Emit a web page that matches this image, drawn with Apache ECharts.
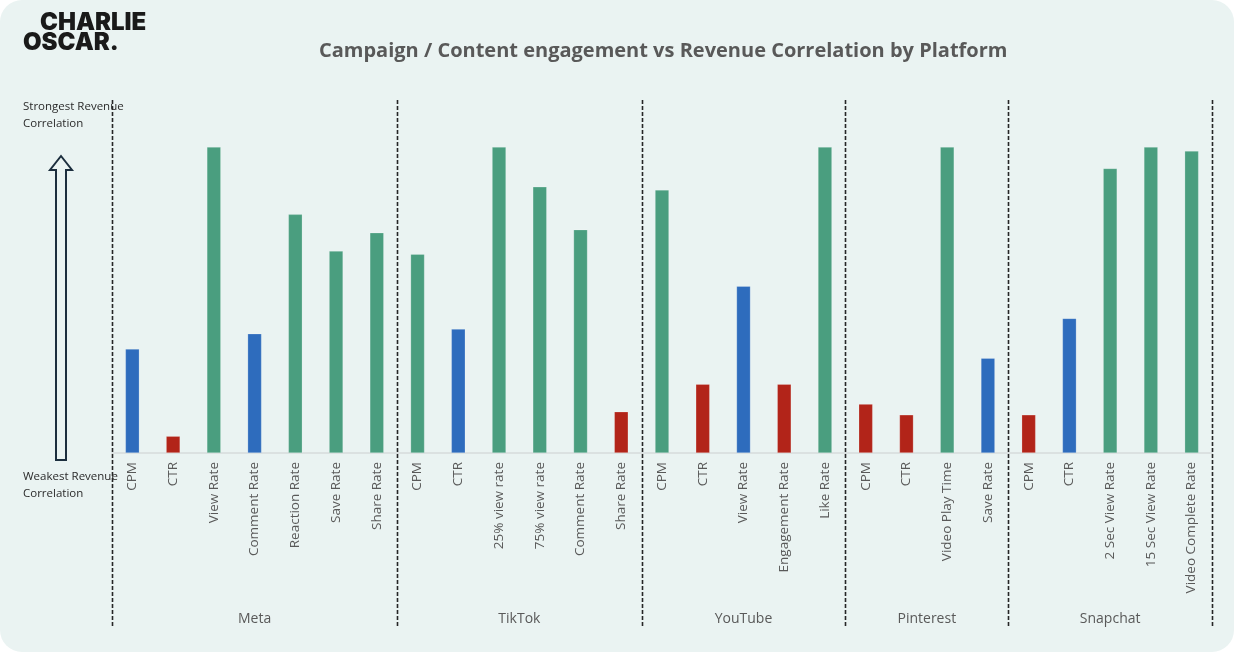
<!DOCTYPE html>
<html>
<head>
<meta charset="utf-8">
<script src="https://cdn.jsdelivr.net/npm/echarts@6/dist/echarts.min.js"></script>
<style>
html,body{margin:0;padding:0;background:#ffffff;}
#frame{position:absolute;left:0;top:0;width:1234px;height:652px;background:#eaf3f2;border-radius:22px;overflow:hidden;}
#chart{width:1234px;height:652px;}
</style>
</head>
<body>
<div id="frame"><div id="chart"></div></div>
<script>
// ---- data ----
const platforms = ['Meta', 'TikTok', 'YouTube', 'Pinterest', 'Snapchat'];
const metaMetrics = ['CPM', 'CTR', 'View Rate', 'Comment Rate', 'Reaction Rate', 'Save Rate', 'Share Rate'];
const metaValues = [34, 5.5, 100, 39, 78, 66, 72];
const metaStrength = ['mid', 'weak', 'strong', 'mid', 'strong', 'strong', 'strong'];
const tiktokMetrics = ['CPM', 'CTR', '25% view rate', '75% view rate', 'Comment Rate', 'Share Rate'];
const tiktokValues = [65, 40.5, 100, 87, 73, 13.5];
const tiktokStrength = ['strong', 'mid', 'strong', 'strong', 'strong', 'weak'];
const youtubeMetrics = ['CPM', 'CTR', 'View Rate', 'Engagement Rate', 'Like Rate'];
const youtubeValues = [86, 22.5, 54.5, 22.5, 100];
const youtubeStrength = ['strong', 'weak', 'mid', 'weak', 'strong'];
const pinterestMetrics = ['CPM', 'CTR', 'Video Play Time', 'Save Rate'];
const pinterestValues = [16, 12.5, 100, 31];
const pinterestStrength = ['weak', 'weak', 'strong', 'mid'];
const snapchatMetrics = ['CPM', 'CTR', '2 Sec View Rate', '15 Sec View Rate', 'Video Complete Rate'];
const snapchatValues = [12.5, 44, 93, 100, 98.7];
const snapchatStrength = ['weak', 'mid', 'strong', 'strong', 'strong'];

const groups = [
  [metaMetrics, metaValues, metaStrength],
  [tiktokMetrics, tiktokValues, tiktokStrength],
  [youtubeMetrics, youtubeValues, youtubeStrength],
  [pinterestMetrics, pinterestValues, pinterestStrength],
  [snapchatMetrics, snapchatValues, snapchatStrength]
];
const strengthColor = { strong: '#4a9e7f', mid: '#2e6cbd', weak: '#b22419' };

const categories = [];
const barData = [];
const groupStart = [];
groups.forEach(function (g) {
  groupStart.push(categories.length);
  g[0].forEach(function (m, i) {
    categories.push(categories.length + '|' + m);
    barData.push({ value: g[1][i], itemStyle: { color: strengthColor[g[2][i]] } });
  });
});
groupStart.push(categories.length);

const chart = echarts.init(document.getElementById('chart'));
const font = '"Open Sans", "Noto Sans", sans-serif';
const option = {
  animation: false,
  title: {
    text: 'Campaign / Content engagement vs Revenue Correlation by Platform',
    left: 314, top: 36,
    textStyle: { fontFamily: font, fontSize: 20, fontWeight: 'bold', color: '#595959' }
  },
  grid: { left: 112, right: 22, top: 147, bottom: 199, containLabel: false },
  xAxis: {
    type: 'category',
    data: categories,
    axisLine: { lineStyle: { color: '#d6dcdb', width: 1.5 } },
    axisTick: { show: false },
    axisLabel: {
      interval: 0, rotate: 90, margin: 9,
      fontFamily: font, fontSize: 13.5, color: '#595959',
      formatter: function (v) { return v.split('|')[1]; }
    }
  },
  yAxis: { type: 'value', min: 0, max: 100, show: false, splitLine: { show: false } },
  series: [{
    type: 'bar', data: barData, barWidth: 14,
    itemStyle: { borderColor: 'rgba(255,255,255,0.35)', borderWidth: 0.6 }
  }]
};
chart.setOption(option);

// separators and platform labels positioned with the category scale
const c0 = chart.convertToPixel({ xAxisIndex: 0 }, categories[0]);
const c1 = chart.convertToPixel({ xAxisIndex: 0 }, categories[1]);
const band = c1 - c0;
function boundary(idx) { return c0 - band / 2 + idx * band; }
const graphics = [];
groupStart.forEach(function (s) {
  const x = Math.round(boundary(s)) + 0.5;
  graphics.push({
    type: 'line', silent: true,
    shape: { x1: x, y1: 100, x2: x, y2: 628 },
    style: { stroke: '#262626', lineWidth: 1.6, lineDash: [4, 2] }
  });
});
platforms.forEach(function (p, i) {
  const cx = (boundary(groupStart[i]) + boundary(groupStart[i + 1])) / 2;
  graphics.push({
    type: 'text', silent: true, x: cx, y: 619,
    style: { text: p, fontFamily: font, fontSize: 14, fill: '#595959', align: 'center', verticalAlign: 'middle' }
  });
});
// side annotations
graphics.push({
  type: 'text', x: 23, y: 98,
  style: { text: 'Strongest Revenue\nCorrelation', fontFamily: font, fontSize: 11.5, lineHeight: 17, fill: '#2a2a2a' }
});
graphics.push({
  type: 'text', x: 23, y: 468,
  style: { text: 'Weakest Revenue\nCorrelation', fontFamily: font, fontSize: 11.5, lineHeight: 17, fill: '#2a2a2a' }
});
graphics.push({
  type: 'polygon',
  shape: { points: [[61, 156], [72, 170], [66, 170], [66, 460], [56, 460], [56, 170], [50, 170]] },
  style: { fill: 'none', stroke: '#1c2e3e', lineWidth: 2 }
});
// logo
graphics.push({
  type: 'text', x: 40, y: 11,
  style: { text: 'CHARLIE', fontFamily: 'Inter, "DejaVu Sans", sans-serif', fontWeight: 900, fontSize: 24, fill: '#1a1a1a' }
});
graphics.push({
  type: 'text', x: 23, y: 31,
  style: { text: 'OSCAR.', fontFamily: 'Inter, "DejaVu Sans", sans-serif', fontWeight: 900, fontSize: 24, fill: '#1a1a1a' }
});
chart.setOption({ graphic: graphics });
</script>
</body>
</html>
